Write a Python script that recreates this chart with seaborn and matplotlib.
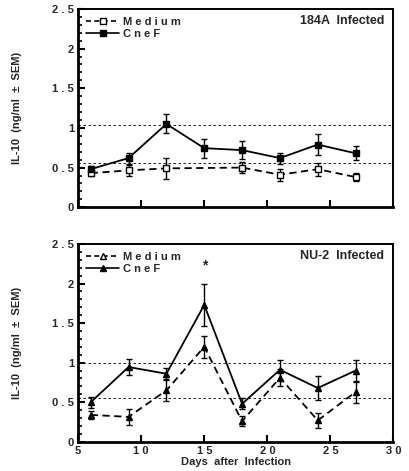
import matplotlib
matplotlib.use("Agg")
import matplotlib.pyplot as plt
from matplotlib.lines import Line2D
from matplotlib.ticker import MultipleLocator, FixedLocator
import seaborn as sns

# days after infection
days_a = [6, 9, 12, 15, 18, 21, 24, 27]
days_med_a = [6, 9, 12, 18, 21, 24, 27]

# 184A infected
cnef_a = [0.48, 0.62, 1.05, 0.745, 0.72, 0.62, 0.79, 0.68]
cnef_a_err = [0.04, 0.07, 0.12, 0.12, 0.11, 0.07, 0.13, 0.09]
med_a = [0.43, 0.465, 0.49, 0.50, 0.41, 0.48, 0.38]
med_a_err = [0.03, 0.065, 0.13, 0.07, 0.075, 0.08, 0.055]
ref_a = [1.04, 0.56]

# NU-2 infected
days_b = [6, 9, 12, 15, 18, 21, 24, 27]
cnef_b = [0.50, 0.945, 0.86, 1.73, 0.48, 0.91, 0.68, 0.90]
cnef_b_err = [0.07, 0.10, 0.07, 0.27, 0.07, 0.13, 0.15, 0.14]
med_b = [0.34, 0.315, 0.65, 1.20, 0.26, 0.81, 0.27, 0.63]
med_b_err = [0.05, 0.10, 0.13, 0.14, 0.06, 0.11, 0.10, 0.14]
ref_b = [1.0, 0.55]

xticks = [5, 10, 15, 20, 25, 30]
xtick_labels = ["5", "1 0", "1 5", "2 0", "2 5", "3 0"]
yticks = [0, 0.5, 1, 1.5, 2, 2.5]
ytick_labels = ["0", "0 . 5", "1", "1 . 5", "2", "2 . 5"]

sns.set_theme(style="white")
plt.rcParams["font.family"] = ["Liberation Sans", "DejaVu Sans"]
plt.rcParams["font.weight"] = "bold"

fig = plt.figure(figsize=(4.09, 4.71), dpi=100)
ax1 = fig.add_axes([0.191, 0.560, 0.771, 0.421])
ax2 = fig.add_axes([0.191, 0.062, 0.771, 0.420])


def style_axis(ax, show_xlabels):
    ax.set_xlim(5, 30)
    ax.set_ylim(0, 2.5)
    ax.xaxis.set_major_locator(FixedLocator(xticks))
    ax.yaxis.set_major_locator(FixedLocator(yticks))
    ax.yaxis.set_minor_locator(MultipleLocator(0.1))
    ax.set_yticklabels(ytick_labels, fontsize=8, fontweight="bold")
    if show_xlabels:
        ax.set_xticklabels(xtick_labels, fontsize=8, fontweight="bold")
    else:
        ax.set_xticklabels([])
    ax.tick_params(axis="both", which="major", direction="in", length=5,
                   width=1.5, color="black", pad=3,
                   bottom=True, left=True, top=False, right=False)
    ax.tick_params(axis="y", which="minor", direction="in", length=3,
                   width=1.2, color="black", left=True)
    for side in ["left", "bottom"]:
        ax.spines[side].set_linewidth(2.0)
    for side in ["top", "right"]:
        ax.spines[side].set_linewidth(1.4)
    for s in ax.spines.values():
        s.set_color("black")
    ax.set_ylabel("IL-10  (ng/ml  \u00b1  SEM)", fontsize=8, fontweight="bold",
                  labelpad=22)


eb = dict(color="black", capsize=2.5, elinewidth=1.0, capthick=1.0,
          markersize=5, lw=1.3)

# top panel
for r in ref_a:
    ax1.axhline(r, color="black", lw=0.6, ls=(0, (3, 3)))
ax1.errorbar(days_med_a, med_a, yerr=med_a_err, marker="s", mfc="white",
             mec="black", ls=(0, (4, 2.5)), **eb)
ax1.errorbar(days_a, cnef_a, yerr=cnef_a_err, marker="s", mfc="black",
             mec="black", ls="-", **eb)
style_axis(ax1, False)
h1 = [Line2D([], [], color="black", ls=(0, (3, 2)), marker="s", mfc="white",
             mec="black", markersize=5, lw=1.2),
      Line2D([], [], color="black", ls="-", marker="s", mfc="black",
             markersize=5, lw=1.2)]
ax1.legend(h1, ["M e d i u m", "C n e F"], loc="upper left", frameon=False,
           handlelength=3.0, handletextpad=0.3, labelspacing=0.2,
           borderaxespad=0.3, prop={"weight": "bold", "size": 8})
ax1.text(0.97, 0.94, "184A  Infected", transform=ax1.transAxes, ha="right",
         va="center", fontsize=9, fontweight="bold")

# bottom panel
for r in ref_b:
    ax2.axhline(r, color="black", lw=0.6, ls=(0, (3, 3)))
ax2.errorbar(days_b, med_b, yerr=med_b_err, marker="^", mfc="black",
             mec="black", ls=(0, (4, 2.5)), **eb)
ax2.errorbar(days_b, cnef_b, yerr=cnef_b_err, marker="^", mfc="black",
             mec="black", ls="-", **eb)
style_axis(ax2, True)
ax2.text(15, 2.23, "*", ha="center", va="center", fontsize=10,
         fontweight="bold")
h2 = [Line2D([], [], color="black", ls=(0, (3, 2)), marker="^", mfc="white",
             mec="black", markersize=5, lw=1.2),
      Line2D([], [], color="black", ls="-", marker="^", mfc="black",
             markersize=5, lw=1.2)]
ax2.legend(h2, ["M e d i u m", "C n e F"], loc="upper left", frameon=False,
           handlelength=3.0, handletextpad=0.3, labelspacing=0.2,
           borderaxespad=0.3, prop={"weight": "bold", "size": 8})
ax2.text(0.97, 0.94, "NU-2  Infected", transform=ax2.transAxes, ha="right",
         va="center", fontsize=9, fontweight="bold")
ax2.set_xlabel("Days  after  Infection", fontsize=8, fontweight="bold",
               labelpad=1)

fig.savefig("out.png", dpi=100)
